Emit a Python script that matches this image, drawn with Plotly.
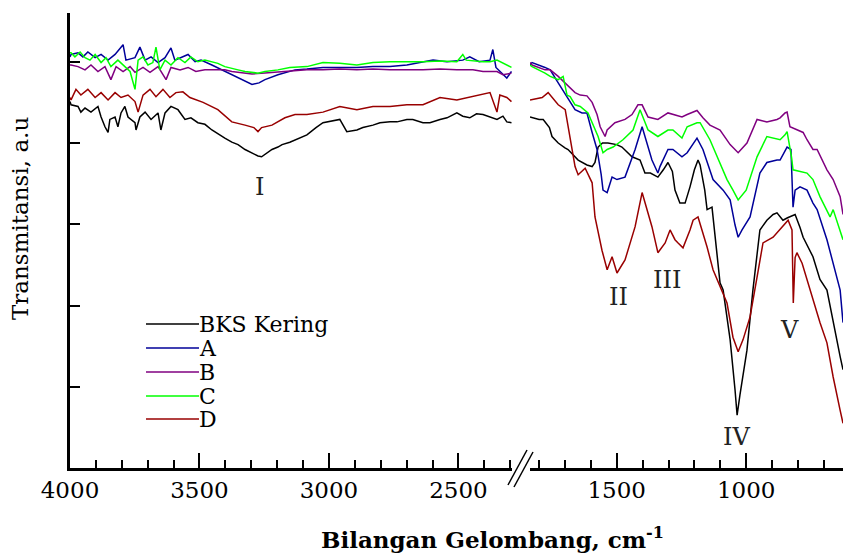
import plotly.graph_objects as go

# ---------------- data (wavenumber cm-1, transmittance a.u.) ----------------
series_names = ["BKS Kering", "A", "B", "C", "D"]
series_colors = ["#000000", "#000099", "#800080", "#00ff00", "#990000"]

# left segment (4000-2300 cm-1)
bks_wn_l = [4000, 3996, 3969, 3958, 3942, 3919, 3892, 3880, 3865, 3853, 3846, 3826, 3815, 3803, 3788, 3776, 3749, 3745,
            3730, 3710, 3687, 3660, 3649, 3633, 3610, 3583, 3556, 3533, 3506, 3479, 3452, 3429, 3402, 3375, 3351, 3324,
            3297, 3274, 3260, 3236, 3220, 3197, 3181, 3151, 3131, 3085, 3050, 3023, 2958, 2931, 2892, 2869, 2830, 2803,
            2764, 2737, 2699, 2676, 2637, 2610, 2571, 2544, 2506, 2483, 2456, 2430, 2405, 2378, 2351, 2328, 2313, 2295]
bks_t_l = [4.51, 4.47, 4.45, 4.38, 4.43, 4.38, 4.45, 4.32, 4.20, 4.13, 4.29, 4.32, 4.20, 4.37, 4.45, 4.32, 4.25, 4.16,
           4.32, 4.38, 4.29, 4.37, 4.16, 4.37, 4.45, 4.41, 4.29, 4.31, 4.25, 4.23, 4.16, 4.11, 4.06, 4.01, 3.98, 3.92,
           3.88, 3.84, 3.83, 3.89, 3.92, 3.95, 3.98, 4.01, 4.04, 4.10, 4.19, 4.25, 4.29, 4.14, 4.16, 4.19, 4.22, 4.25,
           4.26, 4.26, 4.29, 4.29, 4.25, 4.25, 4.29, 4.31, 4.37, 4.33, 4.31, 4.36, 4.35, 4.32, 4.29, 4.33, 4.26, 4.25]

a_wn_l = [4000, 3996, 3969, 3950, 3931, 3903, 3880, 3853, 3826, 3795, 3784, 3749, 3730, 3710, 3687, 3660, 3633, 3610,
          3595, 3571, 3544, 3517, 3494, 3452, 3402, 3351, 3320, 3297, 3270, 3247, 3197, 3131, 3085, 3023, 2958, 2892,
          2830, 2764, 2699, 2637, 2598, 2544, 2483, 2456, 2420, 2378, 2367, 2355, 2313, 2295]
a_t_l = [5.06, 5.09, 5.11, 5.06, 5.12, 5.05, 5.09, 5.02, 5.09, 5.21, 5.02, 5.05, 5.18, 5.02, 5.06, 4.99, 5.05, 5.17,
         5.02, 5.05, 5.09, 5.00, 5.02, 4.96, 4.88, 4.80, 4.75, 4.72, 4.74, 4.78, 4.84, 4.90, 4.91, 4.93, 4.93, 4.93,
         4.94, 4.94, 4.96, 5.00, 5.02, 5.00, 5.02, 5.06, 5.00, 5.02, 5.15, 4.93, 4.80, 4.88]

b_wn_l = [4000, 3996, 3969, 3942, 3919, 3892, 3865, 3842, 3822, 3795, 3768, 3749, 3718, 3691, 3660, 3629, 3610, 3575,
          3544, 3514, 3479, 3402, 3375, 3324, 3297, 3247, 3170, 3085, 3023, 2958, 2892, 2830, 2764, 2699, 2637, 2571,
          2506, 2444, 2405, 2351, 2328, 2295]
b_t_l = [4.96, 4.96, 4.94, 4.90, 4.96, 4.88, 4.94, 4.78, 4.94, 4.88, 4.94, 4.87, 4.93, 4.87, 4.94, 4.78, 4.93, 4.90,
         4.93, 4.88, 4.90, 4.90, 4.88, 4.86, 4.85, 4.86, 4.88, 4.90, 4.90, 4.91, 4.90, 4.91, 4.90, 4.90, 4.90, 4.91,
         4.90, 4.90, 4.88, 4.88, 4.84, 4.86]

c_wn_l = [4000, 3996, 3981, 3961, 3942, 3923, 3903, 3880, 3861, 3842, 3815, 3788, 3768, 3749, 3737, 3718, 3699, 3680,
          3668, 3653, 3633, 3610, 3583, 3556, 3533, 3506, 3479, 3429, 3402, 3351, 3324, 3274, 3247, 3197, 3151, 3085,
          3023, 2958, 2892, 2830, 2764, 2699, 2637, 2571, 2506, 2483, 2470, 2405, 2378, 2351, 2313, 2295]
c_t_l = [5.11, 5.11, 5.06, 5.12, 5.05, 5.02, 5.09, 4.99, 5.05, 4.94, 5.02, 4.94, 4.88, 4.66, 5.02, 5.06, 4.96, 4.99,
         5.18, 4.90, 5.02, 4.96, 5.05, 4.99, 5.06, 5.00, 5.02, 4.98, 4.94, 4.90, 4.88, 4.86, 4.88, 4.90, 4.93, 4.94,
         4.99, 4.98, 4.96, 4.99, 5.00, 5.00, 5.00, 5.01, 5.00, 5.09, 5.02, 5.00, 5.00, 5.02, 4.96, 4.93]

d_wn_l = [4000, 3996, 3977, 3958, 3931, 3903, 3880, 3853, 3826, 3803, 3776, 3749, 3737, 3718, 3691, 3668, 3641, 3614,
          3591, 3564, 3537, 3514, 3486, 3429, 3375, 3324, 3290, 3274, 3260, 3220, 3170, 3131, 3085, 3023, 2958, 2892,
          2830, 2764, 2699, 2637, 2571, 2506, 2444, 2378, 2351, 2340, 2313, 2295]
d_t_l = [4.56, 4.53, 4.66, 4.59, 4.66, 4.56, 4.62, 4.53, 4.62, 4.56, 4.59, 4.51, 4.38, 4.59, 4.66, 4.57, 4.66, 4.56,
         4.62, 4.63, 4.56, 4.53, 4.50, 4.41, 4.26, 4.22, 4.19, 4.14, 4.19, 4.22, 4.31, 4.35, 4.35, 4.38, 4.45, 4.41,
         4.45, 4.45, 4.47, 4.47, 4.56, 4.53, 4.57, 4.62, 4.38, 4.59, 4.56, 4.51]

# right segment (1835-626 cm-1)
bks_wn_r = [1835, 1800, 1784, 1760, 1750, 1726, 1700, 1688, 1649, 1615, 1595, 1584, 1572, 1555, 1534, 1500, 1480, 1441,
            1410, 1391, 1370, 1341, 1320, 1302, 1285, 1275, 1256, 1236, 1217, 1200, 1186, 1178, 1160, 1151, 1132, 1112,
            1101, 1089, 1062, 1043, 1035, 1024, 1016, 997, 974, 958, 947, 920, 896, 881, 858, 840, 811, 792, 780, 742,
            715, 688, 664, 637, 626]
bks_t_r = [4.32, 4.29, 4.29, 4.19, 4.08, 4.00, 3.94, 3.92, 3.79, 3.73, 3.71, 3.76, 3.95, 4.00, 4.00, 3.98, 3.95, 3.83,
           3.79, 3.63, 3.63, 3.58, 3.67, 3.76, 3.65, 3.42, 3.26, 3.26, 3.46, 3.67, 3.79, 3.73, 3.42, 3.18, 3.21, 2.60,
           2.28, 2.19, 1.58, 0.96, 0.65, 0.90, 1.08, 1.45, 2.19, 2.68, 2.93, 3.05, 3.12, 3.14, 3.05, 3.08, 3.12, 2.96,
           2.84, 2.60, 2.32, 2.19, 1.79, 1.37, 1.21]

a_wn_r = [1835, 1827, 1777, 1757, 1726, 1692, 1661, 1634, 1615, 1595, 1576, 1560, 1553, 1537, 1518, 1499, 1468, 1429,
          1402, 1364, 1341, 1333, 1302, 1283, 1248, 1228, 1190, 1167, 1128, 1089, 1062, 1043, 1031, 1016, 985, 947,
          920, 881, 869, 842, 827, 819, 811, 792, 765, 742, 726, 688, 649, 637, 626]
a_t_r = [4.96, 4.99, 4.93, 4.90, 4.74, 4.57, 4.41, 4.37, 4.37, 4.13, 3.92, 3.61, 3.42, 3.39, 3.58, 3.55, 3.58, 3.92,
         4.20, 3.79, 3.63, 3.71, 3.92, 3.92, 3.83, 3.88, 4.06, 3.92, 3.55, 3.42, 3.30, 2.99, 2.84, 2.93, 3.09, 3.63,
         3.76, 3.79, 3.79, 3.95, 3.92, 3.21, 3.42, 3.46, 3.42, 3.26, 3.18, 2.81, 2.35, 2.19, 1.79]

b_wn_r = [1835, 1827, 1777, 1757, 1726, 1692, 1661, 1641, 1615, 1595, 1576, 1564, 1545, 1537, 1507, 1468, 1441, 1418,
          1402, 1379, 1341, 1302, 1283, 1248, 1228, 1190, 1167, 1140, 1101, 1062, 1031, 997, 958, 920, 881, 869, 850,
          842, 831, 804, 780, 765, 742, 726, 688, 664, 637, 626]
b_t_r = [4.99, 4.96, 4.90, 4.90, 4.82, 4.72, 4.62, 4.59, 4.58, 4.50, 4.35, 4.20, 4.08, 4.16, 4.25, 4.29, 4.35, 4.47,
         4.47, 4.32, 4.29, 4.37, 4.35, 4.32, 4.35, 4.40, 4.31, 4.22, 4.16, 3.98, 3.88, 4.00, 4.29, 4.26, 4.29, 4.31,
         4.37, 4.38, 4.20, 4.16, 4.13, 4.04, 3.92, 3.92, 3.67, 3.55, 3.34, 3.12]

c_wn_r = [1835, 1827, 1777, 1757, 1726, 1707, 1692, 1680, 1661, 1641, 1611, 1591, 1572, 1553, 1537, 1514, 1476, 1437,
          1410, 1379, 1341, 1302, 1283, 1248, 1228, 1190, 1178, 1140, 1101, 1074, 1051, 1031, 1000, 958, 920, 869, 850,
          842, 825, 819, 765, 742, 715, 676, 664, 637, 626]
c_t_r = [4.96, 4.94, 4.86, 4.82, 4.78, 4.82, 4.59, 4.57, 4.47, 4.45, 4.37, 4.22, 4.08, 3.88, 3.92, 3.95, 4.04, 4.16,
         4.41, 4.16, 4.08, 4.16, 4.16, 4.06, 4.20, 4.25, 4.25, 4.04, 3.76, 3.55, 3.42, 3.30, 3.42, 3.83, 4.08, 4.04,
         4.10, 4.14, 3.83, 3.67, 3.63, 3.55, 3.34, 3.09, 3.18, 2.93, 2.81]

d_wn_r = [1835, 1788, 1765, 1726, 1699, 1680, 1661, 1649, 1622, 1595, 1584, 1557, 1537, 1518, 1499, 1468, 1429, 1402,
          1364, 1341, 1313, 1294, 1275, 1263, 1244, 1217, 1205, 1186, 1170, 1151, 1128, 1101, 1074, 1051, 1031, 1012,
          985, 958, 935, 896, 858, 838, 823, 818, 811, 804, 784, 753, 715, 688, 664, 637, 626]
d_t_r = [4.53, 4.56, 4.62, 4.47, 4.41, 4.08, 3.71, 3.61, 3.69, 3.51, 3.09, 2.68, 2.44, 2.60, 2.40, 2.56, 2.97, 3.39,
         2.97, 2.65, 2.77, 2.93, 2.81, 2.77, 2.71, 2.93, 3.05, 3.09, 2.93, 2.72, 2.44, 2.23, 2.03, 1.61, 1.43, 1.58,
         1.86, 2.35, 2.77, 2.84, 2.97, 3.05, 2.93, 2.03, 2.59, 2.65, 2.52, 2.19, 1.79, 1.54, 1.12, 0.71, 0.55]

left_wn = [bks_wn_l, a_wn_l, b_wn_l, c_wn_l, d_wn_l]
left_t = [bks_t_l, a_t_l, b_t_l, c_t_l, d_t_l]
right_wn = [bks_wn_r, a_wn_r, b_wn_r, c_wn_r, d_wn_r]
right_t = [bks_t_r, a_t_r, b_t_r, c_t_r, d_t_r]

# band labels
band_labels = ["I", "II", "III", "IV", "V"]
band_wn = [3270, 1495, 1306, 1036, 831]
band_t = [3.46, 2.11, 2.32, 0.38, 1.70]
band_axis = ["x", "x2", "x2", "x2", "x2"]

x_left_ticks = [4000, 3500, 3000, 2500]
x_right_ticks = [1500, 1000]
y_ticks = [1, 2, 3, 4, 5]

# ---------------- layout geometry ----------------
W, H = 843, 553
ML, MR, MT, MB = 70, 0, 13, 85
PW, PH = W - ML - MR, H - MT - MB


def pp(px, py):
    return (px - ML) / PW, (H - MB - py) / PH


FONT = "DejaVu Serif"

fig = go.Figure()
for i, name in enumerate(series_names):
    fig.add_trace(go.Scatter(x=left_wn[i], y=left_t[i], mode="lines", name=name,
                             line=dict(color=series_colors[i], width=1.5),
                             xaxis="x", yaxis="y", showlegend=False))
    fig.add_trace(go.Scatter(x=right_wn[i], y=right_t[i], mode="lines", name=name,
                             line=dict(color=series_colors[i], width=1.5),
                             xaxis="x2", yaxis="y", showlegend=False))

left_end = pp(512, 0)[0]
right_start = pp(530, 0)[0]

axis_common = dict(showline=True, linecolor="black", linewidth=2.5, ticks="inside", ticklen=15,
                   tickwidth=2, tickcolor="black", showgrid=False, zeroline=False,
                   tickfont=dict(family=FONT, size=23, color="black"),
                   minor=dict(dtick=100, tick0=0, ticks="inside", ticklen=8, tickwidth=1.8,
                              tickcolor="black", showgrid=False))

fig.update_layout(
    width=W, height=H,
    margin=dict(l=ML, r=MR, t=MT, b=MB, autoexpand=False),
    paper_bgcolor="white", plot_bgcolor="white",
    xaxis=dict(domain=[0, left_end], range=[4000, 2293], tickvals=x_left_ticks,
               anchor="y", **axis_common),
    xaxis2=dict(domain=[right_start, 1], range=[1835, 626], tickvals=x_right_ticks,
                anchor="y", **axis_common),
    yaxis=dict(range=[0, 5.6], tickvals=y_ticks, showticklabels=False, showline=True,
               linecolor="black", linewidth=3, ticks="inside", ticklen=10, tickwidth=2,
               tickcolor="black", showgrid=False, zeroline=False, anchor="x"),
    showlegend=False,
)

annotations = []
# band labels
for lab, xw, yt, ax in zip(band_labels, band_wn, band_t, band_axis):
    annotations.append(dict(x=xw, y=yt, xref=ax, yref="y", text=lab, showarrow=False,
                            font=dict(family=FONT, size=24, color="#222222")))

# axis titles
tx, ty = pp(493, 538)
annotations.append(dict(x=tx, y=ty, xref="paper", yref="paper", text="<b>Bilangan Gelombang, cm<sup>-1</sup></b>",
                        showarrow=False, font=dict(family=FONT, size=23, color="black"),
                        xanchor="center", yanchor="middle"))
yx, yy = pp(20, 219)
annotations.append(dict(x=yx, y=yy, xref="paper", yref="paper", text="Transmitansi, a.u", textangle=-90,
                        showarrow=False, font=dict(family=FONT, size=23, color="black"),
                        xanchor="center", yanchor="middle"))

# manual legend
shapes = []
legend_py = [324, 348, 372, 396, 419]
for name, col, lpy in zip(series_names, series_colors, legend_py):
    x0, y0 = pp(146, lpy)
    x1, _ = pp(199, lpy)
    shapes.append(dict(type="line", xref="paper", yref="paper", x0=x0, x1=x1, y0=y0, y1=y0,
                       line=dict(color=col, width=1.6)))
    annotations.append(dict(x=x1, y=y0, xref="paper", yref="paper", text=name, showarrow=False,
                            xanchor="left", yanchor="middle", xshift=-2,
                            font=dict(family=FONT, size=22, color="black")))

# axis break marks
for (ax0, ay0, ax1, ay1) in [(508, 485, 527, 450), (514, 487, 533, 452)]:
    bx0, by0 = pp(ax0, ay0)
    bx1, by1 = pp(ax1, ay1)
    shapes.append(dict(type="line", xref="paper", yref="paper", x0=bx0, y0=by0, x1=bx1, y1=by1,
                       line=dict(color="black", width=1.5)))

fig.update_layout(annotations=annotations, shapes=shapes)

fig.write_html("out.html", config={"displayModeBar": False},
               post_script="document.body.style.margin='0px';")
